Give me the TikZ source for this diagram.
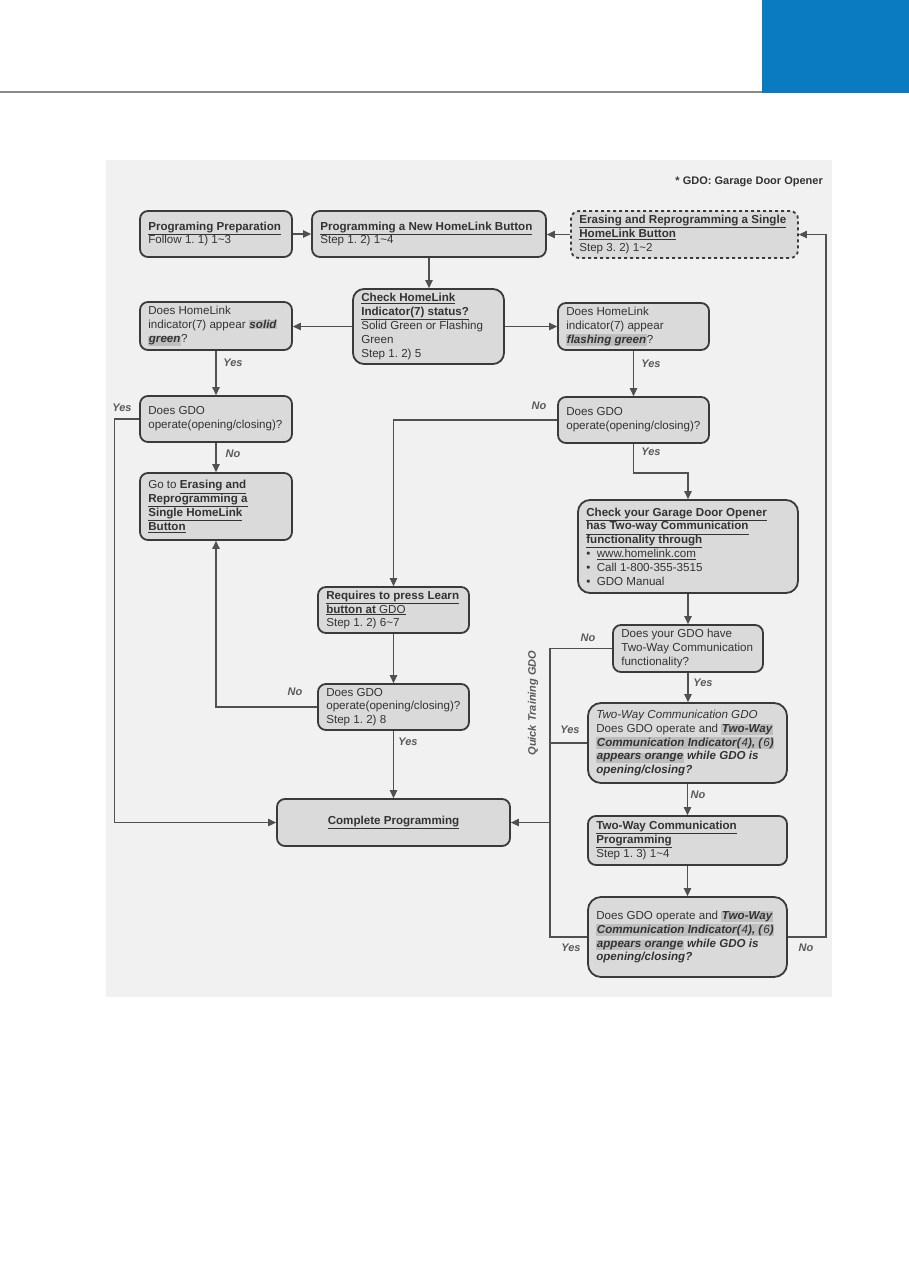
\documentclass[tikz,border=0pt]{standalone}
\usepackage{fontspec}
\setmainfont{Liberation Sans}
\usetikzlibrary{arrows.meta,calc}
\frenchspacing
\definecolor{boxfill}{HTML}{DADADA}
\definecolor{boxline}{HTML}{3A3A3A}
\definecolor{conn}{HTML}{505050}
\definecolor{txt}{HTML}{333333}
\definecolor{labc}{HTML}{5A5A5A}
\definecolor{hlgray}{HTML}{BEBEBE}
\definecolor{panel}{HTML}{F1F1F1}
\definecolor{hblue}{HTML}{0A7BC1}
\definecolor{hline}{HTML}{8A8A8A}
\newcommand\uln[1]{\underline{#1}}
\newcommand\hlt[1]{{\setlength{\fboxsep}{0.6pt}\colorbox{hlgray}{#1}}}
\newcommand\bi[1]{\textbf{\textit{#1}}}
\newcommand\bx[7][]{%
 \pgfmathsetmacro\bxw{#5-#3}\pgfmathsetmacro\bxh{#6-#4}%
 \pgfmathsetmacro\bxcx{(#3+#5)/2}\pgfmathsetmacro\bxcy{(#4+#6)/2}%
 \node[box,#1,minimum width=\bxw pt,minimum height=\bxh pt] (#2) at (\bxcx,\bxcy) {};%
 \node[btext,anchor=west] (#2-t) at ([xshift=9pt]#2.west) {#7};}
\begin{document}
\begin{tikzpicture}[x=1pt,y=-1pt,
 box/.style={draw=boxline, fill=boxfill, line width=1.8pt, rounded corners=8pt, inner sep=0pt},
 bigbox/.style={rounded corners=13pt},
 btext/.style={font=\fontsize{11.6}{13.8}\selectfont\frenchspacing, text=txt, align=left, inner sep=0pt},
 arr/.style={draw=conn, line width=1.2pt, -{Triangle[length=8pt,width=7.5pt]}},
 ln/.style={draw=conn, line width=1.2pt},
 lab/.style={font=\fontsize{11}{13}\selectfont\bfseries\itshape, text=labc, inner sep=0pt}]
\useasboundingbox (0,0) rectangle (909,1275);
\fill[white] (0,0) rectangle (909,1275);
\fill[hblue] (762,0) rectangle (909,93);
\draw[line width=2pt, draw=hline] (0,92) -- (762,92);
\fill[panel] (106,160) rectangle (832,997);

\node[font=\fontsize{11}{13}\selectfont\bfseries, text=txt, anchor=east, inner sep=0pt] (note) at (823,182) {* GDO: Garage Door Opener};

\bx{prep}{140}{211}{292}{257}{\uln{\textbf{Programing Preparation}}\\Follow 1. 1) 1\textasciitilde3}
\bx{newbtn}{312}{211}{546}{257}{\uln{\textbf{Programming a New HomeLink Button}}\\Step 1. 2) 1\textasciitilde4}
\bx[dashed]{erase}{571}{211}{798}{258}{\uln{\textbf{Erasing and Reprogramming a Single}}\\\uln{\textbf{HomeLink Button}}\\Step 3. 2) 1\textasciitilde2}
\bx[rounded corners=11pt]{check}{353}{289}{504}{364}{\uln{\textbf{Check HomeLink}}\\\uln{\textbf{Indicator(7) status?}}\\Solid Green or Flashing\\Green\\Step 1. 2) 5}
\bx{solid}{140}{302}{292}{350}{Does HomeLink\\indicator(7) appear \hlt{\bi{solid}}\\\hlt{\bi{green}}?}
\bx{flash}{558}{303}{709}{350}{Does HomeLink\\indicator(7) appear\\\hlt{\bi{flashing green}}?}
\bx{gdoL}{140}{396}{292}{442}{Does GDO\\operate(opening/closing)?}
\bx{goto}{140}{473}{292}{540}{Go to \uln{\textbf{Erasing and}}\\\uln{\textbf{Reprogramming a}}\\\uln{\textbf{Single HomeLink}}\\\uln{\textbf{Button}}}
\bx{gdoR}{558}{397}{709}{443}{Does GDO\\operate(opening/closing)?}
\bx[rounded corners=12pt]{chk}{578}{500}{798}{593}{\uln{\textbf{Check your Garage Door Opener}}\\\uln{\textbf{has Two-way Communication}}\\\uln{\textbf{functionality through}}\\\textbullet\ \ \uln{www.homelink.com}\\\textbullet\ \ Call 1-800-355-3515\\\textbullet\ \ GDO Manual}
\bx{learn}{318}{587}{469}{633}{\uln{\textbf{Requires to press Learn}}\\\uln{\textbf{button at} GDO}\\Step 1. 2) 6\textasciitilde7}
\bx{gdoLn}{318}{684}{469}{730}{Does GDO\\operate(opening/closing)?\\Step 1. 2) 8}
\node[box,minimum width=233pt,minimum height=47pt] (complete) at (393.5,822.5) {};
\node[btext] (complete-t) at (complete.center) {\uln{\textbf{Complete Programming}}};
\bx{hastw}{613}{625}{763}{672}{Does your GDO have\\Two-Way Communication\\functionality?}
\bx[bigbox]{twgdo}{588}{703}{787}{783}{\textit{Two-Way Communication GDO}\\Does GDO operate and \hlt{\bi{Two-Way}}\\\hlt{\bi{Communication Indicator(}\textit{4}\bi{), (}\textit{6}\bi{)}}\\\hlt{\bi{appears orange}}\bi{ while GDO is}\\\bi{opening/closing?}}
\bx{twprog}{588}{816}{787}{865}{\uln{\textbf{Two-Way Communication}}\\\uln{\textbf{Programming}}\\Step 1. 3) 1\textasciitilde4}
\bx[bigbox]{twfin}{588}{897}{787}{977}{Does GDO operate and \hlt{\bi{Two-Way}}\\\hlt{\bi{Communication Indicator(}\textit{4}\bi{), (}\textit{6}\bi{)}}\\\hlt{\bi{appears orange}}\bi{ while GDO is}\\\bi{opening/closing?}}

% connectors
\draw[arr] (prep.east) -- (prep.east -| newbtn.west);
\draw[arr] (erase.west) -- (erase.west -| newbtn.east);
\draw[arr] (newbtn.south) -- (newbtn.south |- check.north);
\draw[arr] (check.west) -- (check.west -| solid.east);
\draw[arr] (check.east) -- (check.east -| flash.west);
\draw[arr] (solid.south) -- (gdoL.north);
\draw[arr] (gdoL.south) -- (goto.north);
\draw[arr] (gdoL.west) -- ++(-25,0) |- (complete.west);
\draw[arr] (flash.south) -- (gdoR.north);
\draw[arr] (gdoR.west) -| (learn.north);
\draw[arr] (gdoR.south) -- ++(0,29) -| (chk.north);
\draw[arr] (chk.south) -- (chk.south |- hastw.north);
\draw[arr] (learn.south) -- (gdoLn.north);
\draw[arr] (gdoLn.west) -| (goto.south);
\draw[arr] (gdoLn.south) -- (gdoLn.south |- complete.north);
\coordinate (qt) at (550,648.5);
\coordinate (qb) at (550,937);
\draw[ln] (hastw.west) -- (qt) -- (qb) -- (twfin.west);
\draw[ln] (twgdo.west) -- (twgdo.west -| qt);
\draw[arr] (complete.east -| qt) -- (complete.east);
\draw[arr] (hastw.south) -- (hastw.south |- twgdo.north);
\draw[arr] (twgdo.south) -- (twgdo.south |- twprog.north);
\draw[arr] (twprog.south) -- (twprog.south |- twfin.north);
\draw[arr] (twfin.east) -- ++(38,0) |- (erase.east);

% labels
\node[lab] (l1) at (233,363) {Yes};
\node[lab] (l2) at (233,454) {No};
\node[lab] (l3) at (122,408) {Yes};
\node[lab] (l4) at (651,364) {Yes};
\node[lab] (l5) at (539,406) {No};
\node[lab] (l6) at (651,452) {Yes};
\node[lab] (l7) at (295,692) {No};
\node[lab] (l8) at (408,742) {Yes};
\node[lab] (l9) at (588,638) {No};
\node[lab] (l10) at (703,683) {Yes};
\node[lab] (l11) at (570,730) {Yes};
\node[lab] (l12) at (698,795) {No};
\node[lab] (l13) at (571,948) {Yes};
\node[lab] (l14) at (806,948) {No};
\node[lab, rotate=90] (qtg) at (533,703) {Quick Training GDO};
\end{tikzpicture}
\end{document}
